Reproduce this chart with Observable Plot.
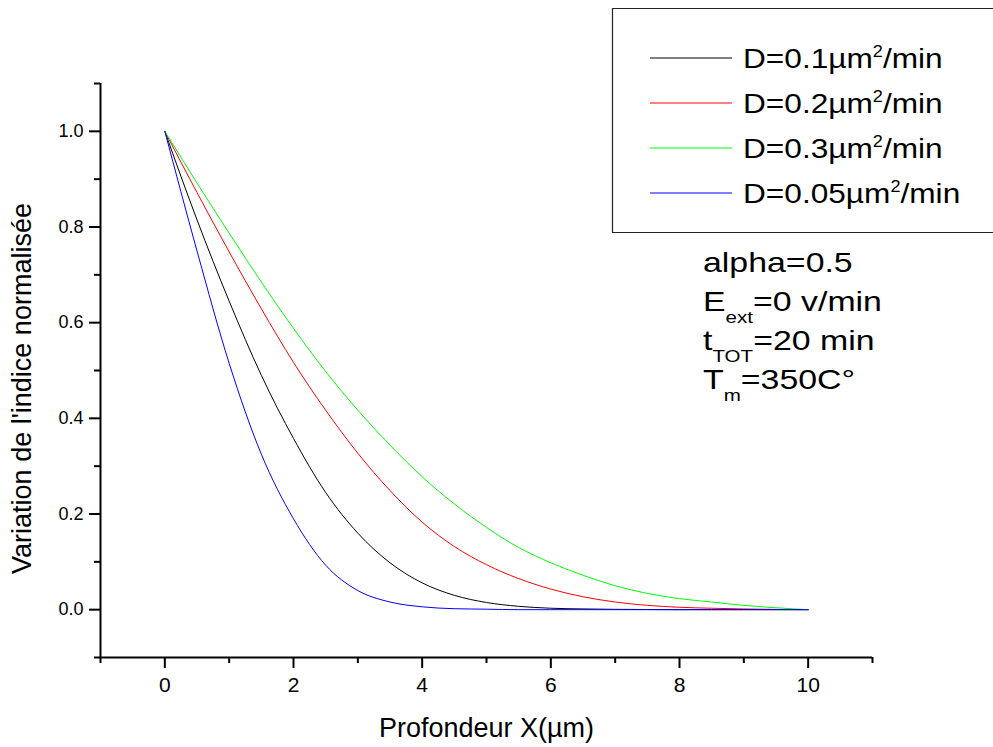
<!DOCTYPE html>
<html>
<head>
<meta charset="utf-8">
<script src="https://cdn.jsdelivr.net/npm/d3@7"></script>
<script src="https://cdn.jsdelivr.net/npm/@observablehq/plot@0.6"></script>
<style>
  body { margin: 0; background: #fff; overflow: hidden; }
  svg { font-family: "Liberation Sans", Arial, sans-serif; }
</style>
</head>
<body>
<div id="chart"></div>
<script>
// ---- data ----
const depth = [0, 0.5, 1, 1.5, 2, 2.5, 3, 3.5, 4, 4.5, 5, 5.5, 6, 6.5, 7, 7.5, 8, 8.5, 9, 9.5, 10];
const seriesD = ["0.1", "0.2", "0.3", "0.05"];
const seriesColors = ["#000000", "#ff0000", "#00ff00", "#0000ff"];
const d01  = [1, 0.815, 0.645, 0.49, 0.358, 0.245, 0.16, 0.098, 0.056, 0.03, 0.015, 0.007, 0.003, 0.0015, 0.0007, 0.0003, 0, 0, 0, 0, 0];
const d02  = [1, 0.872, 0.748, 0.629, 0.517, 0.417, 0.327, 0.249, 0.183, 0.132, 0.094, 0.065, 0.043, 0.027, 0.016, 0.009, 0.005, 0.003, 0.0015, 0.0005, 0];
const d03  = [1, 0.892, 0.787, 0.685, 0.588, 0.498, 0.417, 0.344, 0.278, 0.221, 0.172, 0.13, 0.098, 0.072, 0.05, 0.034, 0.023, 0.016, 0.009, 0.004, 0];
const d005 = [1, 0.75, 0.515, 0.325, 0.19, 0.093, 0.04, 0.016, 0.006, 0.002, 0.001, 0, 0, 0, 0, 0, 0, 0, 0, 0, 0];
const seriesValues = [d01, d02, d03, d005];

const xMajor = [0, 2, 4, 6, 8, 10];
const xMinor = [-1, 1, 3, 5, 7, 9, 11];
const yMajor = [0, 0.2, 0.4, 0.6, 0.8, 1.0];
const yMinor = [-0.1, 0.1, 0.3, 0.5, 0.7, 0.9, 1.1];
const xTitle = "Profondeur X(µm)";
const yTitle = "Variation de l'indice normalisée";
const notes = [
  [["alpha=0.5"]],
  [["E"], ["ext", "sub"], ["=0 v/min"]],
  [["t"], ["TOT", "sub"], ["=20 min"]],
  [["T"], ["m", "sub"], ["=350C°"]]
];

// ---- table ----
const rows = seriesD.flatMap((d, i) =>
  depth.map((x, j) => ({series: d, x, y: seriesValues[i][j]}))
);

const chart = Plot.plot({
  width: 993,
  height: 747,
  marginLeft: 100,
  marginRight: 121,
  marginTop: 83,
  marginBottom: 90,
  x: {domain: [-1, 11]},
  y: {domain: [-0.1, 1.1]},
  color: {domain: seriesD, range: seriesColors},
  style: {fontFamily: "Liberation Sans, Arial, sans-serif", background: "white", color: "black"},
  marks: [
    Plot.axisY(yMajor, {tickSize: 11, tickPadding: 6, tickFormat: d => d.toFixed(1), fontSize: 18, strokeWidth: 2, label: null}),
    Plot.axisY(yMinor, {tickSize: 6, tickFormat: () => "", strokeWidth: 2, label: null}),
    Plot.axisX(xMajor, {tickSize: 11, tickPadding: 9, tickFormat: d => String(d), fontSize: 21, strokeWidth: 2, label: null}),
    Plot.axisX(xMinor, {tickSize: 6, tickFormat: () => "", strokeWidth: 2, label: null}),
    Plot.ruleX([-1], {strokeWidth: 2}),
    Plot.ruleY([-0.1], {strokeWidth: 2}),
    Plot.line(rows, {x: "x", y: "y", z: "series", stroke: "series", strokeWidth: 1, curve: "monotone-x"}),
    Plot.text([xTitle], {frameAnchor: "bottom", dy: 71, fontSize: 27, lineAnchor: "middle", textAnchor: "middle"}),
    Plot.text([yTitle], {frameAnchor: "left", dx: -78, dy: 18, rotate: -90, fontSize: 27, lineAnchor: "middle", textAnchor: "middle"})
  ]
});

document.getElementById("chart").appendChild(chart);

// ---- legend ----
const svg = d3.select(chart);
const lg = svg.append("g").attr("text-anchor", "start");
lg.append("rect")
  .attr("x", 612).attr("y", 8).attr("width", 381).attr("height", 224)
  .attr("fill", "white").attr("stroke", "none");
lg.append("path")
  .attr("d", "M993,8.5H612.5V232.5H993")
  .attr("fill", "none").attr("stroke", "#222").attr("stroke-width", 1.2);
seriesD.forEach((d, i) => {
  const cy = 58 + i * 45;
  lg.append("line")
    .attr("x1", 650).attr("x2", 732).attr("y1", cy).attr("y2", cy)
    .attr("stroke", seriesColors[i]).attr("stroke-width", 1);
  const g = lg.append("g").attr("transform", `translate(743,${cy + 10}) scale(1.13,1)`);
  const t = g.append("text").attr("font-size", 28).attr("fill", "black").attr("text-anchor", "start");
  t.append("tspan").text(`D=${d}µm`);
  t.append("tspan").attr("font-size", 16).attr("dy", -11).text("2");
  t.append("tspan").attr("dy", 11).text("/min");
});

// ---- annotation ----
notes.forEach((parts, i) => {
  const g = svg.append("g").attr("transform", `translate(703,${272 + i * 39}) scale(1.21,1)`);
  const t = g.append("text").attr("font-size", 28).attr("fill", "black").attr("text-anchor", "start");
  let shifted = false;
  parts.forEach(([s, kind]) => {
    const ts = t.append("tspan").text(s);
    if (kind === "sub") {
      ts.attr("font-size", 17).attr("dy", 12);
      shifted = true;
    } else if (shifted) {
      ts.attr("dy", -12);
      shifted = false;
    }
  });
});
</script>
</body>
</html>
